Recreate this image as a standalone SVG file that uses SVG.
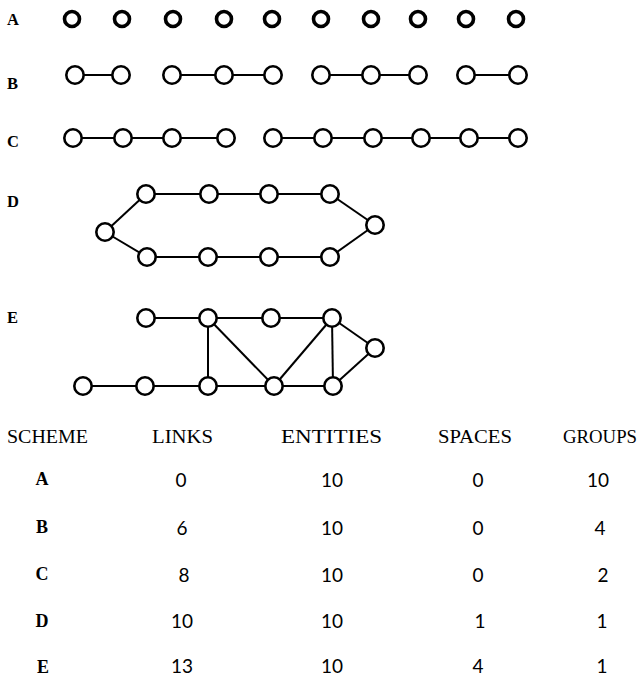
<svg xmlns="http://www.w3.org/2000/svg" width="640" height="679" viewBox="0 0 640 679">
<style>
.bg{fill:#fff}
.na{fill:#fff;stroke:#000;stroke-width:3.6}
.n{fill:#fff;stroke:#000;stroke-width:2.6}
.e{stroke:#000;stroke-width:2;fill:none}
.lbl{font-family:"Liberation Serif",serif;font-weight:bold;font-size:16.5px;fill:#000}
.hd{font-family:"Liberation Serif",serif;font-size:19.5px;fill:#000}
.rl{font-family:"Liberation Serif",serif;font-weight:bold;font-size:18px;fill:#000;text-anchor:middle}
.num{font-family:Lato,"Noto Sans",sans-serif;font-size:19px;fill:#000;text-anchor:middle}
</style>
<rect class="bg" width="640" height="679"/>
<g id="labels">
<text class="lbl" x="7" y="25">A</text>
<text class="lbl" x="7" y="89">B</text>
<text class="lbl" x="7" y="147">C</text>
<text class="lbl" x="7" y="207">D</text>
<text class="lbl" x="7" y="323">E</text>
</g>
<g id="connectors">
<!-- B -->
<line class="e" x1="75" y1="75" x2="121" y2="75"/>
<line class="e" x1="172" y1="75" x2="224" y2="75"/>
<line class="e" x1="224" y1="75" x2="273" y2="75"/>
<line class="e" x1="321" y1="75" x2="371" y2="75"/>
<line class="e" x1="371" y1="75" x2="418" y2="75"/>
<line class="e" x1="466" y1="75" x2="518" y2="75"/>
<!-- C -->
<line class="e" x1="73" y1="138" x2="123" y2="138"/>
<line class="e" x1="123" y1="138" x2="172" y2="138"/>
<line class="e" x1="172" y1="138" x2="226" y2="138"/>
<line class="e" x1="273" y1="138" x2="323" y2="138"/>
<line class="e" x1="323" y1="138" x2="373" y2="138"/>
<line class="e" x1="373" y1="138" x2="421" y2="138"/>
<line class="e" x1="421" y1="138" x2="469" y2="138"/>
<line class="e" x1="469" y1="138" x2="518" y2="138"/>
<!-- D -->
<line class="e" x1="105" y1="232" x2="146" y2="194"/>
<line class="e" x1="146" y1="194" x2="209" y2="194"/>
<line class="e" x1="209" y1="194" x2="269" y2="194"/>
<line class="e" x1="269" y1="194" x2="330" y2="194"/>
<line class="e" x1="330" y1="194" x2="375" y2="225"/>
<line class="e" x1="375" y1="225" x2="330" y2="257"/>
<line class="e" x1="330" y1="257" x2="269" y2="257"/>
<line class="e" x1="269" y1="257" x2="208" y2="257"/>
<line class="e" x1="208" y1="257" x2="147" y2="257"/>
<line class="e" x1="147" y1="257" x2="105" y2="232"/>
<!-- E -->
<line class="e" x1="146" y1="318" x2="208" y2="318"/>
<line class="e" x1="208" y1="318" x2="271" y2="318"/>
<line class="e" x1="271" y1="318" x2="332" y2="318"/>
<line class="e" x1="332" y1="318" x2="375" y2="348"/>
<line class="e" x1="375" y1="348" x2="333" y2="386"/>
<line class="e" x1="332" y1="318" x2="333" y2="386"/>
<line class="e" x1="332" y1="318" x2="274" y2="386"/>
<line class="e" x1="208" y1="318" x2="274" y2="386"/>
<line class="e" x1="208" y1="318" x2="208" y2="386"/>
<line class="e" x1="83" y1="386" x2="145" y2="386"/>
<line class="e" x1="145" y1="386" x2="208" y2="386"/>
<line class="e" x1="208" y1="386" x2="274" y2="386"/>
<line class="e" x1="274" y1="386" x2="333" y2="386"/>
</g>
<g id="schemeA">
<g id="A1"><circle class="na" cx="72" cy="19" r="7.5"/></g>
<g id="A2"><circle class="na" cx="122" cy="19" r="7.5"/></g>
<g id="A3"><circle class="na" cx="173" cy="19" r="7.5"/></g>
<g id="A4"><circle class="na" cx="224" cy="19" r="7.5"/></g>
<g id="A5"><circle class="na" cx="272" cy="19" r="7.5"/></g>
<g id="A6"><circle class="na" cx="321" cy="19" r="7.5"/></g>
<g id="A7"><circle class="na" cx="371" cy="19" r="7.5"/></g>
<g id="A8"><circle class="na" cx="418" cy="19" r="7.5"/></g>
<g id="A9"><circle class="na" cx="466" cy="19" r="7.5"/></g>
<g id="A10"><circle class="na" cx="516" cy="19" r="7.5"/></g>
</g>
<g id="schemeB">
<g id="B1"><circle class="n" cx="75" cy="75" r="8.7"/></g>
<g id="B2"><circle class="n" cx="121" cy="75" r="8.7"/></g>
<g id="B3"><circle class="n" cx="172" cy="75" r="8.7"/></g>
<g id="B4"><circle class="n" cx="224" cy="75" r="8.7"/></g>
<g id="B5"><circle class="n" cx="273" cy="75" r="8.7"/></g>
<g id="B6"><circle class="n" cx="321" cy="75" r="8.7"/></g>
<g id="B7"><circle class="n" cx="371" cy="75" r="8.7"/></g>
<g id="B8"><circle class="n" cx="418" cy="75" r="8.7"/></g>
<g id="B9"><circle class="n" cx="466" cy="75" r="8.7"/></g>
<g id="B10"><circle class="n" cx="518" cy="75" r="8.7"/></g>
</g>
<g id="schemeC">
<g id="C1"><circle class="n" cx="73" cy="138" r="8.7"/></g>
<g id="C2"><circle class="n" cx="123" cy="138" r="8.7"/></g>
<g id="C3"><circle class="n" cx="172" cy="138" r="8.7"/></g>
<g id="C4"><circle class="n" cx="226" cy="138" r="8.7"/></g>
<g id="C5"><circle class="n" cx="273" cy="138" r="8.7"/></g>
<g id="C6"><circle class="n" cx="323" cy="138" r="8.7"/></g>
<g id="C7"><circle class="n" cx="373" cy="138" r="8.7"/></g>
<g id="C8"><circle class="n" cx="421" cy="138" r="8.7"/></g>
<g id="C9"><circle class="n" cx="469" cy="138" r="8.7"/></g>
<g id="C10"><circle class="n" cx="518" cy="138" r="8.7"/></g>
</g>
<g id="schemeD">
<g id="D1"><circle class="n" cx="105" cy="232" r="8.7"/></g>
<g id="D2"><circle class="n" cx="146" cy="194" r="8.7"/></g>
<g id="D3"><circle class="n" cx="209" cy="194" r="8.7"/></g>
<g id="D4"><circle class="n" cx="269" cy="194" r="8.7"/></g>
<g id="D5"><circle class="n" cx="330" cy="194" r="8.7"/></g>
<g id="D6"><circle class="n" cx="375" cy="225" r="8.7"/></g>
<g id="D7"><circle class="n" cx="330" cy="257" r="8.7"/></g>
<g id="D8"><circle class="n" cx="269" cy="257" r="8.7"/></g>
<g id="D9"><circle class="n" cx="208" cy="257" r="8.7"/></g>
<g id="D10"><circle class="n" cx="147" cy="257" r="8.7"/></g>
</g>
<g id="schemeE">
<g id="E1"><circle class="n" cx="146" cy="318" r="8.7"/></g>
<g id="E2"><circle class="n" cx="208" cy="318" r="8.7"/></g>
<g id="E3"><circle class="n" cx="271" cy="318" r="8.7"/></g>
<g id="E4"><circle class="n" cx="332" cy="318" r="8.7"/></g>
<g id="E5"><circle class="n" cx="375" cy="348" r="8.7"/></g>
<g id="E6"><circle class="n" cx="83" cy="386" r="8.7"/></g>
<g id="E7"><circle class="n" cx="145" cy="386" r="8.7"/></g>
<g id="E8"><circle class="n" cx="208" cy="386" r="8.7"/></g>
<g id="E9"><circle class="n" cx="274" cy="386" r="8.7"/></g>
<g id="E10"><circle class="n" cx="333" cy="386" r="8.7"/></g>
</g>
<g id="table">
<text class="hd" x="7" y="443" textLength="81" lengthAdjust="spacingAndGlyphs">SCHEME</text>
<text class="hd" x="152" y="443" textLength="61" lengthAdjust="spacingAndGlyphs">LINKS</text>
<text class="hd" x="281" y="443" textLength="101" lengthAdjust="spacingAndGlyphs">ENTITIES</text>
<text class="hd" x="438" y="443" textLength="74" lengthAdjust="spacingAndGlyphs">SPACES</text>
<text class="hd" x="563" y="443" textLength="74" lengthAdjust="spacingAndGlyphs">GROUPS</text>
<text class="rl" x="42" y="485">A</text>
<text class="rl" x="42" y="533">B</text>
<text class="rl" x="42" y="580">C</text>
<text class="rl" x="42" y="627">D</text>
<text class="rl" x="43" y="673">E</text>
<text class="num" x="181" y="487">0</text>
<text class="num" x="182" y="535">6</text>
<text class="num" x="184" y="582">8</text>
<text class="num" x="182" y="628">10</text>
<text class="num" x="182" y="673">13</text>
<text class="num" x="332" y="487">10</text>
<text class="num" x="332" y="535">10</text>
<text class="num" x="332" y="582">10</text>
<text class="num" x="332" y="628">10</text>
<text class="num" x="332" y="673">10</text>
<text class="num" x="478" y="487">0</text>
<text class="num" x="478" y="535">0</text>
<text class="num" x="478" y="582">0</text>
<text class="num" x="480" y="628">1</text>
<text class="num" x="478" y="673">4</text>
<text class="num" x="598" y="487">10</text>
<text class="num" x="600" y="535">4</text>
<text class="num" x="603" y="582">2</text>
<text class="num" x="602" y="628">1</text>
<text class="num" x="602" y="673">1</text>
</g>
</svg>
